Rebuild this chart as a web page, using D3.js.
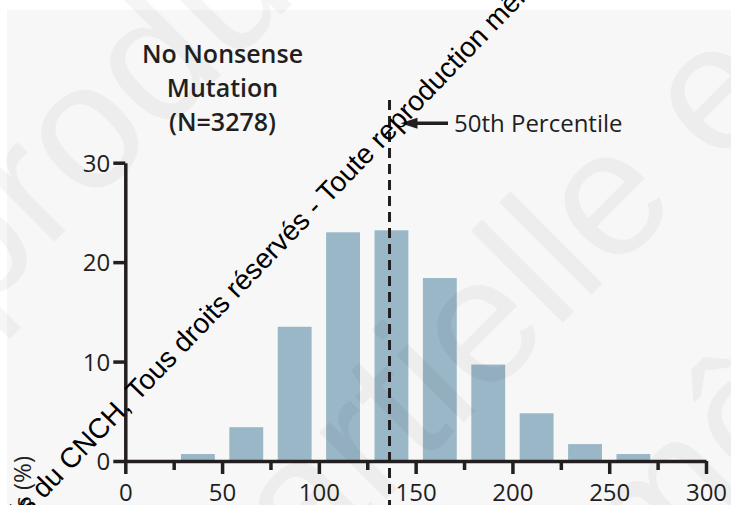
<!DOCTYPE html>
<html>
<head>
<meta charset="utf-8">
<script src="https://cdn.jsdelivr.net/npm/d3@7"></script>
<style>
  html, body { margin: 0; padding: 0; background: #ffffff; }
  #vis { width: 731px; height: 505px; overflow: hidden; }
  .axis text { font-family: "Open Sans", sans-serif; font-size: 24px; fill: #231f20; }
  .axis line, .axis path { stroke: #231f20; stroke-width: 3.5; }
</style>
</head>
<body>
<div id="vis"></div>
<script>
// histogram bins (start of each 25-unit bin) and % of patients
const binStarts = [25, 50, 75, 100, 125, 150, 175, 200, 225, 250];
const percents = [0.7, 3.4, 13.5, 23.0, 23.2, 18.4, 9.7, 4.8, 1.7, 0.7];
const xTicks = [0, 50, 100, 150, 200, 250, 300];
const xMinorTicks = [25, 75, 125, 175, 225, 275];
const yTicks = [0, 10, 20, 30];
const median = 136.5;
const titleLines = ['No Nonsense', 'Mutation', '(N=3278)'];
const medianLabel = '50th Percentile';
const yLabel = 'Patients (%)';

const W = 731, H = 505;
const ink = '#231f20';
const barColor = '#9ab7c7';

const svg = d3.select('#vis')
    .append('svg')
    .attr('width', W)
    .attr('height', H);

// light panel
svg.append('rect')
    .attr('x', 7).attr('y', 10)
    .attr('width', W - 7).attr('height', H - 10)
    .attr('fill', '#f7f7f8');

const x = d3.scaleLinear().domain([0, 300]).range([125.3, 706]);
const y = d3.scaleLinear().domain([0, 30]).range([461, 162.7]);
const band = d3.scaleBand()
    .domain(binStarts)
    .range([x(25), x(275)])
    .paddingInner(0.3)
    .paddingOuter(0.15);

// bars
svg.selectAll('.bar')
    .data(binStarts)
    .join('rect')
    .attr('class', 'bar')
    .attr('x', d => band(d))
    .attr('width', band.bandwidth())
    .attr('y', (d, i) => y(percents[i]))
    .attr('height', (d, i) => y(0) - y(percents[i]))
    .attr('fill', barColor);

// big faint watermark letters
const bigMarks = [
    { text: 'Reproduction', x: -188, y: 484 },
    { text: 'partielle est', x: 236, y: 650 },
    { text: 'même', x: 648, y: 598 }
];
svg.selectAll('.bigmark')
    .data(bigMarks)
    .join('text')
    .attr('class', 'bigmark')
    .attr('transform', d => `translate(${d.x},${d.y}) rotate(-45)`)
    .style('font-family', '"Liberation Sans", Arial, sans-serif')
    .style('font-size', '180px')
    .style('fill', '#000')
    .style('fill-opacity', 0.04)
    .text(d => d.text);

// axes
svg.append('g')
    .attr('class', 'axis')
    .attr('transform', `translate(0,${y(0)})`)
    .call(d3.axisBottom(x).tickValues(xTicks).tickSize(13).tickSizeOuter(0).tickPadding(10));

svg.append('g')
    .attr('class', 'axis')
    .attr('transform', `translate(0,${y(0)})`)
    .call(d3.axisBottom(x).tickValues(xMinorTicks).tickSize(9).tickFormat(''))
    .call(g => g.select('.domain').remove());

svg.append('g')
    .attr('class', 'axis')
    .attr('transform', `translate(${x(0)},0)`)
    .call(d3.axisLeft(y).tickValues(yTicks).tickSize(12).tickSizeOuter(0).tickPadding(3))
    .call(g => g.selectAll('text').attr('dy', '0.36em'));

// y label (mostly cut off at the bottom)
svg.append('text')
    .attr('transform', 'translate(31,456) rotate(-90)')
    .attr('text-anchor', 'end')
    .style('font-family', '"Open Sans", sans-serif')
    .style('font-size', '24px')
    .style('fill', ink)
    .text(yLabel);

// title
svg.append('text')
    .attr('x', 222.5)
    .attr('text-anchor', 'middle')
    .style('font-family', '"Open Sans", sans-serif')
    .style('font-size', '25px')
    .style('font-weight', 600)
    .style('fill', ink)
    .selectAll('tspan')
    .data(titleLines)
    .join('tspan')
    .attr('x', 222.5)
    .attr('y', (d, i) => 63 + i * 34)
    .text(d => d);

// median line + arrow
const mx = x(median);
svg.append('line')
    .attr('x1', mx).attr('x2', mx)
    .attr('y1', 100).attr('y2', H)
    .attr('stroke', ink)
    .attr('stroke-width', 3)
    .attr('stroke-dasharray', '10,6');

svg.append('line')
    .attr('x1', mx + 22).attr('x2', 448)
    .attr('y1', 123.3).attr('y2', 123.3)
    .attr('stroke', ink)
    .attr('stroke-width', 3.5);

svg.append('path')
    .attr('d', `M${mx + 11},123.3 L${mx + 28},117.8 L${mx + 28},128.8 Z`)
    .attr('fill', ink);

svg.append('text')
    .attr('x', 454)
    .attr('y', 131.5)
    .style('font-family', '"Open Sans", sans-serif')
    .style('font-size', '24px')
    .style('fill', ink)
    .text(medianLabel);

// diagonal copyright watermark
const wmFont = '"Liberation Sans", Arial, sans-serif';
svg.append('text')
    .attr('transform', 'translate(137.5,402.3) rotate(-46)')
    .attr('x', -7.8)
    .attr('text-anchor', 'end')
    .style('font-family', wmFont)
    .style('font-size', '28px')
    .style('fill', '#000')
    .text('Documents réservés du CNCH,');

svg.append('text')
    .attr('transform', 'translate(137.5,402.3) rotate(-46)')
    .style('font-family', wmFont)
    .style('font-size', '28px')
    .style('fill', '#000')
    .text('Tous droits réservés - Toute reproduction même partielle interdite');
</script>
</body>
</html>
